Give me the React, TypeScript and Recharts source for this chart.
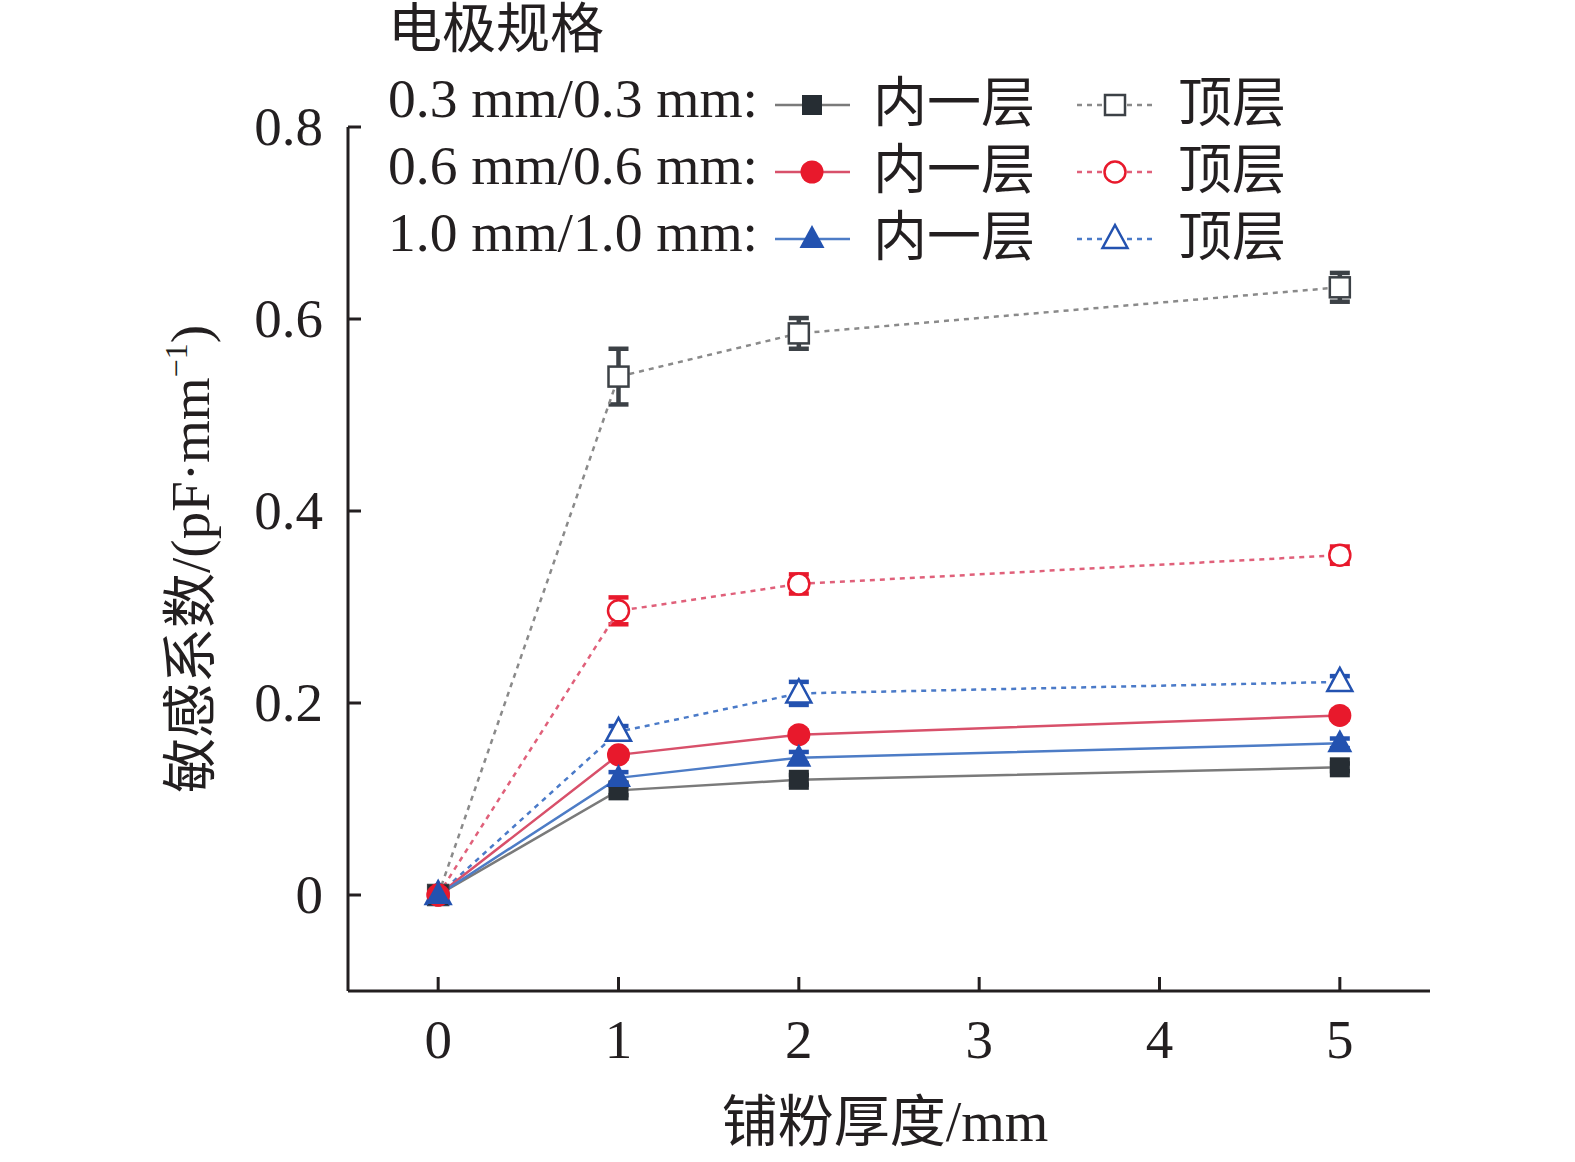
import React from 'react'
import { LineChart, Line, XAxis, YAxis, ErrorBar, Label } from 'recharts'

// 铺粉厚度 (mm)
const thickness = [0, 1, 2, 5]
const xTicks = [0, 1, 2, 3, 4, 5]
const yTicks = [0, 0.2, 0.4, 0.6, 0.8]

// 内一层
const inner03 = [0, 0.109, 0.12, 0.133]
const inner06 = [0, 0.146, 0.167, 0.187]
const inner10 = [0, 0.122, 0.143, 0.158]
const inner03Err = [0.003, 0.005, 0.005, 0.004]
const inner06Err = [0.003, 0.004, 0.004, 0.004]
const inner10Err = [0.003, 0.006, 0.006, 0.005]

// 顶层
const top03 = [0, 0.54, 0.585, 0.633]
const top06 = [0, 0.296, 0.324, 0.354]
const top10 = [0, 0.17, 0.21, 0.222]
const top03Err = [0.003, 0.029, 0.016, 0.015]
const top06Err = [0.003, 0.014, 0.01, 0.009]
const top10Err = [0.003, 0.006, 0.012, 0.006]

const specs = ['0.3 mm/0.3 mm:', '0.6 mm/0.6 mm:', '1.0 mm/1.0 mm:']

const rows = thickness.map((x, i) => ({
  x,
  inner03: inner03[i], inner06: inner06[i], inner10: inner10[i],
  top03: top03[i], top06: top06[i], top10: top10[i],
  inner03Err: inner03Err[i], inner06Err: inner06Err[i], inner10Err: inner10Err[i],
  top03Err: top03Err[i], top06Err: top06Err[i], top10Err: top10Err[i],
}))

const FONT = "'Liberation Serif', 'Noto Sans CJK SC', serif"
const INK = '#231f20'

type Shape = 'square' | 'circle' | 'triangle'

const Marker = ({ cx, cy, shape, color, open }: { cx: number; cy: number; shape: Shape; color: string; open: boolean }) => {
  const fill = open ? '#fff' : color
  const stroke = color
  const sw = open ? 2.5 : 0
  if (shape === 'square') return <rect x={cx - 10} y={cy - 10} width={20} height={20} fill={fill} stroke={stroke} strokeWidth={sw} />
  if (shape === 'circle') return <circle cx={cx} cy={cy} r={open ? 10.5 : 11.5} fill={fill} stroke={stroke} strokeWidth={sw} />
  return <polygon points={`${cx},${cy - 14} ${cx - 12.5},${cy + 9} ${cx + 12.5},${cy + 9}`} fill={fill} stroke={stroke} strokeWidth={sw} />
}

const series = [
  { key: 'top03', shape: 'square' as Shape, mark: '#3c4146', line: '#8a8a8a', open: true, dash: '5 5' },
  { key: 'top06', shape: 'circle' as Shape, mark: '#e8192c', line: '#e0607a', open: true, dash: '5 5' },
  { key: 'top10', shape: 'triangle' as Shape, mark: '#2352b0', line: '#4a7ac8', open: true, dash: '5 5' },
  { key: 'inner03', shape: 'square' as Shape, mark: '#262d33', line: '#7a7a7a', open: false, dash: undefined },
  { key: 'inner06', shape: 'circle' as Shape, mark: '#e8192c', line: '#d8506a', open: false, dash: undefined },
  { key: 'inner10', shape: 'triangle' as Shape, mark: '#2352b0', line: '#4d7cc6', open: false, dash: undefined },
]

const XTick = (p: any) => (
  <g>
    <line x1={p.x} y1={p.y} x2={p.x} y2={p.y - 14} stroke={INK} strokeWidth={3} />
    <text x={p.x} y={p.y + 67} textAnchor="middle" fontFamily={FONT} fontSize={55} fill={INK}>
      {p.payload.value}
    </text>
  </g>
)

const YTick = (p: any) => (
  <g>
    <line x1={p.x} y1={p.y} x2={p.x + 13} y2={p.y} stroke={INK} strokeWidth={3} />
    <text x={p.x - 25} y={p.y + 18} textAnchor="end" fontFamily={FONT} fontSize={55} fill={INK}>
      {p.payload.value === 0 ? '0' : Number(p.payload.value).toFixed(1)}
    </text>
  </g>
)

const YLabel = (p: any) => {
  const vb = p.viewBox
  const cx = 190
  const cy = vb.y + vb.height / 2
  return (
    <text x={cx} y={cy + 19} transform={`rotate(-90 ${cx} ${cy})`} textAnchor="middle" fontFamily={FONT} fontSize={55} fill={INK}>
      敏感系数/(pF·mm<tspan dy={-22} fontSize={32}>−1</tspan><tspan dy={22}>)</tspan>
    </text>
  )
}

const LegendBox = () => {
  const rowY = [105, 172, 239]
  return (
    <svg width={1575} height={270} style={{ position: 'absolute', left: 0, top: 0, pointerEvents: 'none' }}>
      <text x={388} y={48} fontFamily={FONT} fontSize={54} fill={INK}>电极规格</text>
      {specs.map((s, i) => {
        const inner = series[3 + i]
        const top = series[i]
        const y = rowY[i]
        return (
          <g key={s}>
            <text x={388} y={y + 12} fontFamily={FONT} fontSize={55.5} fill={INK}>{s}</text>
            <line x1={775} y1={y} x2={850} y2={y} stroke={inner.line} strokeWidth={2.5} />
            <Marker cx={812} cy={y} shape={inner.shape} color={inner.mark} open={false} />
            <text x={873} y={y + 17} fontFamily={FONT} fontSize={54} fill={INK}>内一层</text>
            <line x1={1077} y1={y} x2={1155} y2={y} stroke={top.line} strokeWidth={2.5} strokeDasharray="5 5" />
            <Marker cx={1115} cy={y} shape={top.shape} color={top.mark} open />
            <text x={1178} y={y + 17} fontFamily={FONT} fontSize={54} fill={INK}>顶层</text>
          </g>
        )
      })}
    </svg>
  )
}

export default function App() {
  return (
    <div style={{ position: 'absolute', left: 0, top: 0, width: 1575, height: 1162, background: '#fff' }}>
      <LineChart width={1575} height={1162} data={rows} margin={{ top: 127, right: 145, bottom: 0, left: 0 }}>
        <XAxis
          dataKey="x"
          type="number"
          domain={[-0.5, 5.5]}
          ticks={xTicks}
          height={171}
          tickSize={0}
          tickMargin={0}
          tickLine={false}
          tick={XTick}
          axisLine={{ stroke: INK, strokeWidth: 3 }}
        >
          <Label
            content={() => (
              <text x={885} y={1141} textAnchor="middle" fontFamily={FONT} fontSize={56} fill={INK}>
                铺粉厚度/mm
              </text>
            )}
          />
        </XAxis>
        <YAxis
          type="number"
          domain={[-0.1, 0.8]}
          ticks={yTicks}
          allowDataOverflow
          width={348}
          tickSize={0}
          tickMargin={0}
          tickLine={false}
          tick={YTick}
          axisLine={{ stroke: INK, strokeWidth: 3 }}
        >
          <Label content={YLabel} />
        </YAxis>
        {series.map((s) => (
          <Line
            key={s.key}
            dataKey={s.key}
            type="linear"
            stroke={s.line}
            strokeWidth={2.5}
            strokeDasharray={s.dash}
            isAnimationActive={false}
            dot={(p: any) => <Marker key={`${s.key}-${p.index}`} cx={p.cx} cy={p.cy} shape={s.shape} color={s.mark} open={s.open} />}
            activeDot={false}
          >
            <ErrorBar dataKey={`${s.key}Err`} width={10} stroke={s.mark} strokeWidth={4.5} isAnimationActive={false} />
          </Line>
        ))}
      </LineChart>
      <LegendBox />
    </div>
  )
}
